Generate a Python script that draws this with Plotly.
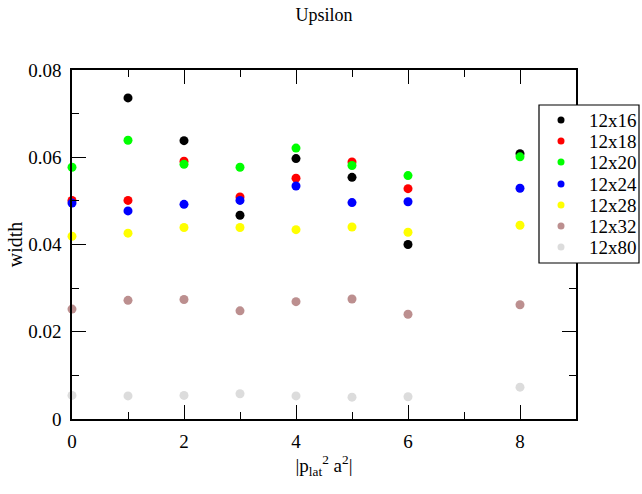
import plotly.graph_objects as go

# ---- data ----
x_vals = [0, 1, 2, 3, 4, 5, 6, 8]
series_names = ["12x16", "12x18", "12x20", "12x24", "12x28", "12x32", "12x80"]
w_12x16 = [None, 0.0736, 0.0638, 0.0467, 0.0597, 0.0554, 0.0400, 0.0608]
w_12x18 = [0.0501, 0.0501, 0.0591, 0.0509, 0.0552, 0.0589, 0.0528, None]
w_12x20 = [0.0577, 0.0639, 0.0584, 0.0577, 0.0621, 0.0581, 0.0558, 0.0601]
w_12x24 = [0.0495, 0.0477, 0.0492, 0.0501, 0.0534, 0.0496, 0.0498, 0.0529]
w_12x28 = [0.0419, 0.0426, 0.0439, 0.0439, 0.0434, 0.0440, 0.0428, 0.0444]
w_12x32 = [0.0252, 0.0272, 0.0274, 0.0248, 0.0269, 0.0275, 0.0240, 0.0262]
w_12x80 = [0.0054, 0.0053, 0.0054, 0.0058, 0.0053, 0.0050, 0.0051, 0.0073]
series_values = [w_12x16, w_12x18, w_12x20, w_12x24, w_12x28, w_12x32, w_12x80]
colors = ["#000000", "#ff0000", "#00ff00", "#0000ff", "#ffff00", "#bc8f8f", "#dcdcdc"]

x_tickvals = [0, 2, 4, 6, 8]
x_ticktext = ["0", "2", "4", "6", "8"]
y_tickvals = [0, 0.02, 0.04, 0.06, 0.08]
y_ticktext = ["0", "0.02", "0.04", "0.06", "0.08"]

FONT = "Liberation Serif, Times New Roman, serif"
W, H = 642, 494
ML, MR, MT, MB = 72, 66, 70, 75
PW, PH = W - ML - MR, H - MT - MB

def px2paper_x(px):
    return (px - ML) / PW

def px2paper_y(py):
    return (H - MB - py) / PH

fig = go.Figure()
for name, vals, col in zip(series_names, series_values, colors):
    fig.add_trace(go.Scatter(
        x=x_vals, y=vals, mode="markers", name=name,
        marker=dict(color=col, size=9, line=dict(width=0)),
        cliponaxis=False, showlegend=False,
    ))

axis_common = dict(
    showgrid=False, zeroline=False, showline=True, linecolor="black", linewidth=1.5,
    mirror="allticks", ticks="inside", ticklen=14, tickwidth=1.2, tickcolor="black",
    tickfont=dict(family=FONT, size=19, color="black"),
)
fig.update_xaxes(
    range=[0, 9], tickvals=x_tickvals, ticktext=x_ticktext,
    minor=dict(dtick=1, tick0=0, ticks="inside", ticklen=7, tickwidth=1.2, tickcolor="black"),
    title=dict(text="|p<sub>lat</sub><sup>2</sup> a<sup>2</sup>|",
               font=dict(family=FONT, size=19, color="black"), standoff=5),
    ticklabelstandoff=4,
    **axis_common,
)
fig.update_yaxes(
    range=[0, 0.08], tickvals=y_tickvals, ticktext=y_ticktext,
    minor=dict(dtick=0.01, tick0=0, ticks="inside", ticklen=7, tickwidth=1.2, tickcolor="black"),
    title=dict(text="width", font=dict(family=FONT, size=20, color="black"), standoff=0),
    ticklabelstandoff=5,
    **axis_common,
)

# ---- manual legend ----
shapes = [dict(type="rect", xref="paper", yref="paper",
               x0=px2paper_x(539), x1=px2paper_x(639),
               y0=px2paper_y(263), y1=px2paper_y(105),
               line=dict(color="black", width=1.2), fillcolor="white", layer="above")]
annotations = []
row_y = [120, 141, 162, 184, 205, 226, 247]
for name, col, ry in zip(series_names, colors, row_y):
    shapes.append(dict(type="circle", xref="paper", yref="paper",
                       xsizemode="pixel", ysizemode="pixel",
                       xanchor=px2paper_x(561), yanchor=px2paper_y(ry),
                       x0=-3.5, x1=3.5, y0=-3.5, y1=3.5,
                       fillcolor=col, line=dict(width=0), layer="above"))
    annotations.append(dict(text=name, xref="paper", yref="paper",
                            x=px2paper_x(587), y=px2paper_y(ry),
                            xanchor="left", yanchor="middle", showarrow=False,
                            font=dict(family=FONT, size=19, color="black")))

fig.update_layout(
    width=W, height=H,
    margin=dict(l=ML, r=MR, t=MT, b=MB, autoexpand=False),
    paper_bgcolor="white", plot_bgcolor="white",
    title=dict(text="Upsilon", x=324 / W, xanchor="center",
               y=1 - 15 / H, yanchor="middle",
               font=dict(family=FONT, size=18, color="black")),
    shapes=shapes, annotations=annotations,
    showlegend=False,
)

fig.write_html("out.html", config={"displayModeBar": False},
               post_script="document.body.style.margin='0';")
